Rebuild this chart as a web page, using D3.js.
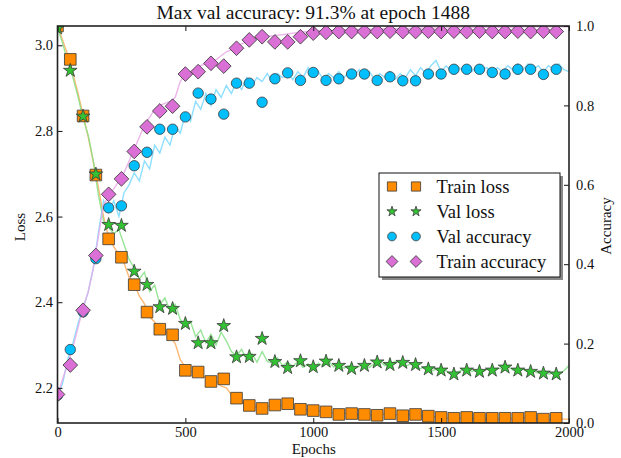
<!DOCTYPE html>
<html><head><meta charset="utf-8">
<script src="https://cdn.jsdelivr.net/npm/d3@7"></script>
<style>
html,body{margin:0;padding:0;background:#fff;}
svg text{font-family:"Liberation Serif","DejaVu Serif",serif;fill:#111;}
</style></head>
<body><svg id="c" width="621" height="458"></svg>
<script>
// ---- data ----
const title = "Max val accuracy: 91.3% at epoch 1488";
const xLabel = "Epochs", yLeftLabel = "Loss", yRightLabel = "Accuracy";
const xTicks = [0, 500, 1000, 1500, 2000];
const lossTicks = [2.2, 2.4, 2.6, 2.8, 3.0];
const accTicks = [0.0, 0.2, 0.4, 0.6, 0.8, 1.0];
const seriesNames = ["Train loss", "Val loss", "Val accuracy", "Train accuracy"];

// marker epochs: every 50 from 0 to 1950
const markerEpochs = d3.range(0, 2000, 50);
const trainLoss = [3.045,2.967,2.835,2.697,2.548,2.505,2.441,2.377,2.337,2.324,
  2.241,2.237,2.215,2.221,2.176,2.159,2.152,2.160,2.163,2.150,
  2.147,2.144,2.138,2.140,2.138,2.136,2.140,2.135,2.138,2.134,
  2.131,2.129,2.131,2.129,2.129,2.129,2.129,2.131,2.127,2.129];
const valLoss = [3.040,2.941,2.834,2.699,2.581,2.579,2.472,2.441,2.389,2.385,
  2.350,2.305,2.305,2.345,2.272,2.273,2.315,2.261,2.247,2.263,
  2.249,2.262,2.252,2.245,2.252,2.260,2.254,2.259,2.254,2.244,
  2.241,2.232,2.241,2.238,2.241,2.248,2.241,2.238,2.234,2.232];
const valAcc = [0.070,0.185,0.280,0.414,0.542,0.547,0.648,0.682,0.740,0.740,
  0.771,0.831,0.816,0.778,0.856,0.856,0.808,0.867,0.882,0.863,
  0.883,0.863,0.867,0.879,0.879,0.863,0.872,0.862,0.862,0.879,
  0.879,0.891,0.891,0.891,0.883,0.879,0.891,0.891,0.878,0.891];
const trainAcc = [0.072,0.146,0.284,0.422,0.576,0.615,0.684,0.746,0.786,0.798,
  0.879,0.885,0.906,0.899,0.944,0.965,0.973,0.960,0.960,0.973,
  0.982,0.984,0.986,0.986,0.986,0.986,0.987,0.986,0.986,0.987,
  0.986,0.987,0.986,0.987,0.986,0.986,0.987,0.986,0.987,0.986];

// raw curves: every 20 epochs from 0 to 2000
const rawEpochs = d3.range(0, 2001, 20);
const trainLossRaw = [3.045,3.012,2.978,2.935,2.888,2.838,2.786,2.728,2.668,2.600,
  2.552,2.530,2.512,2.492,2.458,2.444,2.414,2.396,2.366,2.354,
  2.336,2.334,2.318,2.304,2.266,2.248,2.238,2.240,2.226,2.224,
  2.212,2.216,2.204,2.200,2.184,2.176,2.166,2.163,2.156,2.156,
  2.150,2.157,2.156,2.162,2.158,2.160,2.153,2.152,2.148,2.149,
  2.146,2.147,2.143,2.144,2.140,2.139,2.141,2.139,2.140,2.137,
  2.138,2.136,2.137,2.136,2.139,2.140,2.137,2.137,2.135,2.138,
  2.137,2.135,2.134,2.132,2.133,2.131,2.130,2.128,2.130,2.129,
  2.131,2.129,2.130,2.128,2.128,2.129,2.128,2.127,2.129,2.128,
  2.129,2.130,2.130,2.129,2.127,2.127,2.126,2.128,2.128,2.127,2.127];
const valLossRaw = [3.040,3.005,2.960,2.925,2.880,2.830,2.790,2.730,2.650,2.590,
  2.575,2.560,2.570,2.535,2.500,2.480,2.455,2.470,2.425,2.440,
  2.395,2.410,2.380,2.395,2.360,2.345,2.355,2.320,2.335,2.305,
  2.325,2.300,2.330,2.310,2.285,2.275,2.290,2.265,2.280,2.260,
  2.285,2.262,2.258,2.270,2.252,2.260,2.250,2.262,2.248,2.256,
  2.245,2.258,2.250,2.262,2.249,2.254,2.246,2.252,2.244,2.250,
  2.254,2.248,2.258,2.262,2.252,2.256,2.262,2.258,2.250,2.256,
  2.248,2.245,2.250,2.238,2.244,2.236,2.240,2.232,2.236,2.241,
  2.244,2.238,2.242,2.236,2.244,2.240,2.246,2.244,2.250,2.242,
  2.240,2.244,2.236,2.240,2.234,2.238,2.232,2.236,2.232,2.240,2.252];
const valAccRaw = [0.070,0.100,0.160,0.200,0.250,0.290,0.330,0.390,0.480,0.560,
  0.530,0.560,0.520,0.580,0.600,0.630,0.610,0.660,0.640,0.700,
  0.680,0.720,0.700,0.750,0.730,0.780,0.760,0.810,0.790,0.830,
  0.800,0.840,0.820,0.850,0.830,0.860,0.840,0.870,0.850,0.870,
  0.860,0.880,0.860,0.880,0.870,0.885,0.865,0.885,0.870,0.895,
  0.875,0.885,0.865,0.880,0.870,0.885,0.870,0.885,0.875,0.890,
  0.875,0.885,0.865,0.880,0.870,0.885,0.865,0.880,0.870,0.890,
  0.875,0.895,0.880,0.900,0.913,0.885,0.900,0.885,0.900,0.890,
  0.900,0.885,0.900,0.890,0.895,0.880,0.895,0.885,0.900,0.890,
  0.905,0.890,0.905,0.890,0.900,0.885,0.900,0.890,0.905,0.890,0.885];
const trainAccRaw = [0.070,0.110,0.150,0.190,0.240,0.290,0.330,0.390,0.470,0.550,
  0.570,0.590,0.610,0.630,0.660,0.690,0.720,0.750,0.770,0.790,
  0.800,0.805,0.810,0.820,0.860,0.880,0.885,0.895,0.900,0.905,
  0.910,0.915,0.925,0.935,0.940,0.950,0.955,0.960,0.965,0.970,
  0.972,0.975,0.975,0.977,0.978,0.980,0.982,0.983,0.985,0.986,
  0.987,0.988,0.988,0.989,0.989,0.990,0.990,0.991,0.991,0.991,
  0.992,0.992,0.992,0.993,0.993,0.993,0.993,0.994,0.994,0.994,
  0.994,0.995,0.995,0.995,0.995,0.995,0.995,0.996,0.996,0.996,
  0.996,0.996,0.996,0.997,0.997,0.997,0.997,0.997,0.997,0.997,
  0.998,0.998,0.998,0.998,0.998,0.998,0.998,0.998,0.998,0.998,0.998];

// ---- layout ----
const L = 57.5, R = 569, T = 26, B = 423;
const svg = d3.select("#c");
const x = d3.scaleLinear().domain([0, 2000]).range([L, R]);
const yLoss = d3.scaleLinear().domain([2.118, 3.045]).range([B, T]);
const yAcc = d3.scaleLinear().domain([0, 1]).range([B, T]);

svg.append("defs").append("clipPath").attr("id", "clip")
  .append("rect").attr("x", L).attr("y", T).attr("width", R - L).attr("height", B - T);
const plot = svg.append("g").attr("clip-path", "url(#clip)");

const styles = {
  trainLoss: {fill: "#ff8c00", line: "#ffac5a", sym: "square"},
  valLoss:   {fill: "#33c233", line: "#86e086", sym: "star"},
  valAcc:    {fill: "#00bfff", line: "#7ad9ff", sym: "circle"},
  trainAcc:  {fill: "#da70d6", line: "#eaa8e8", sym: "diamond"}
};
const symPath = {
  square: d3.symbol(d3.symbolSquare, 135)(),
  star: d3.symbol(d3.symbolStar, 58)(),
  circle: d3.symbol(d3.symbolCircle, 85)(),
  diamond: d3.symbol(d3.symbolSquare, 108)()
};
const symPathSmall = {
  square: d3.symbol(d3.symbolSquare, 85)(),
  star: d3.symbol(d3.symbolStar, 32)(),
  circle: d3.symbol(d3.symbolCircle, 60)(),
  diamond: d3.symbol(d3.symbolSquare, 70)()
};

function rawLine(vals, y, color) {
  const line = d3.line().x((d, i) => x(rawEpochs[i])).y(d => y(d));
  plot.append("path").datum(vals).attr("d", line)
    .attr("fill", "none").attr("stroke", color).attr("stroke-width", 1.4).attr("stroke-opacity", 0.85);
}
function markers(vals, y, st) {
  plot.append("g").selectAll("path").data(vals).join("path")
    .attr("d", symPath[st.sym])
    .attr("transform", (d, i) => `translate(${x(markerEpochs[i])},${y(d)})` + (st.sym === "diamond" ? " rotate(45)" : ""))
    .attr("fill", st.fill).attr("stroke", "#3a3a3a").attr("stroke-width", 0.8);
}

rawLine(trainLossRaw, yLoss, styles.trainLoss.line);
rawLine(valLossRaw, yLoss, styles.valLoss.line);
markers(trainLoss, yLoss, styles.trainLoss);
markers(valLoss, yLoss, styles.valLoss);
rawLine(valAccRaw, yAcc, styles.valAcc.line);
rawLine(trainAccRaw, yAcc, styles.trainAcc.line);
markers(valAcc, yAcc, styles.valAcc);
markers(trainAcc, yAcc, styles.trainAcc);

// ---- axes ----
const tickFont = 14.5;
const axBottom = svg.append("g").attr("transform", `translate(0,${B})`)
  .call(d3.axisBottom(x).tickValues(xTicks).tickFormat(d3.format("d")).tickSizeInner(-5).tickSizeOuter(0).tickPadding(4));
const axTop = svg.append("g").attr("transform", `translate(0,${T})`)
  .call(d3.axisTop(x).tickValues(xTicks).tickFormat("").tickSizeInner(-5).tickSizeOuter(0));
const axLeft = svg.append("g").attr("transform", `translate(${L},0)`)
  .call(d3.axisLeft(yLoss).tickValues(lossTicks).tickFormat(d3.format(".1f")).tickSizeInner(-5).tickSizeOuter(0).tickPadding(4.5));
const axRight = svg.append("g").attr("transform", `translate(${R},0)`)
  .call(d3.axisRight(yAcc).tickValues(accTicks).tickFormat(d3.format(".1f")).tickSizeInner(-5).tickSizeOuter(0).tickPadding(7));
[axBottom, axTop, axLeft, axRight].forEach(a => {
  a.select(".domain").remove();
  a.selectAll("line").attr("stroke", "#111").attr("stroke-width", 1);
  a.selectAll("text").attr("font-family", '"Liberation Serif", serif').attr("font-size", tickFont).attr("fill", "#111");
});
svg.append("rect").attr("x", L).attr("y", T).attr("width", R - L).attr("height", B - T)
  .attr("fill", "none").attr("stroke", "#222").attr("stroke-width", 1.6);

// ---- labels ----
svg.append("text").attr("x", (L + R) / 2).attr("y", 19).attr("text-anchor", "middle")
  .attr("font-size", 19.5).text(title);
svg.append("text").attr("x", (L + R) / 2 + 0.5).attr("y", 454).attr("text-anchor", "middle")
  .attr("font-size", 15).text(xLabel);
svg.append("text").attr("transform", `translate(25,227) rotate(-90)`).attr("text-anchor", "middle")
  .attr("font-size", 15).text(yLeftLabel);
svg.append("text").attr("transform", `translate(611,226) rotate(-90)`).attr("text-anchor", "middle")
  .attr("font-size", 15).text(yRightLabel);

// ---- legend ----
const lg = svg.append("g");
const lx = 379, ly = 173, lw = 181, lh = 104;
lg.append("rect").attr("x", lx + 3).attr("y", ly + 3).attr("width", lw).attr("height", lh).attr("fill", "#888");
lg.append("rect").attr("x", lx).attr("y", ly).attr("width", lw).attr("height", lh)
  .attr("fill", "#fff").attr("stroke", "#111").attr("stroke-width", 1);
const keys = ["trainLoss", "valLoss", "valAcc", "trainAcc"];
keys.forEach((k, i) => {
  const yy = ly + 13.5 + i * 25;
  const st = styles[k];
  [392, 416].forEach(mx => {
    lg.append("path").attr("d", symPathSmall[st.sym])
      .attr("transform", `translate(${mx},${yy})` + (st.sym === "diamond" ? " rotate(45)" : ""))
      .attr("fill", st.fill).attr("stroke", "#3a3a3a").attr("stroke-width", 0.8);
  });
  lg.append("text").attr("x", 436.5).attr("y", yy + 6).attr("font-size", 18.5).text(seriesNames[i]);
});
</script></body></html>
